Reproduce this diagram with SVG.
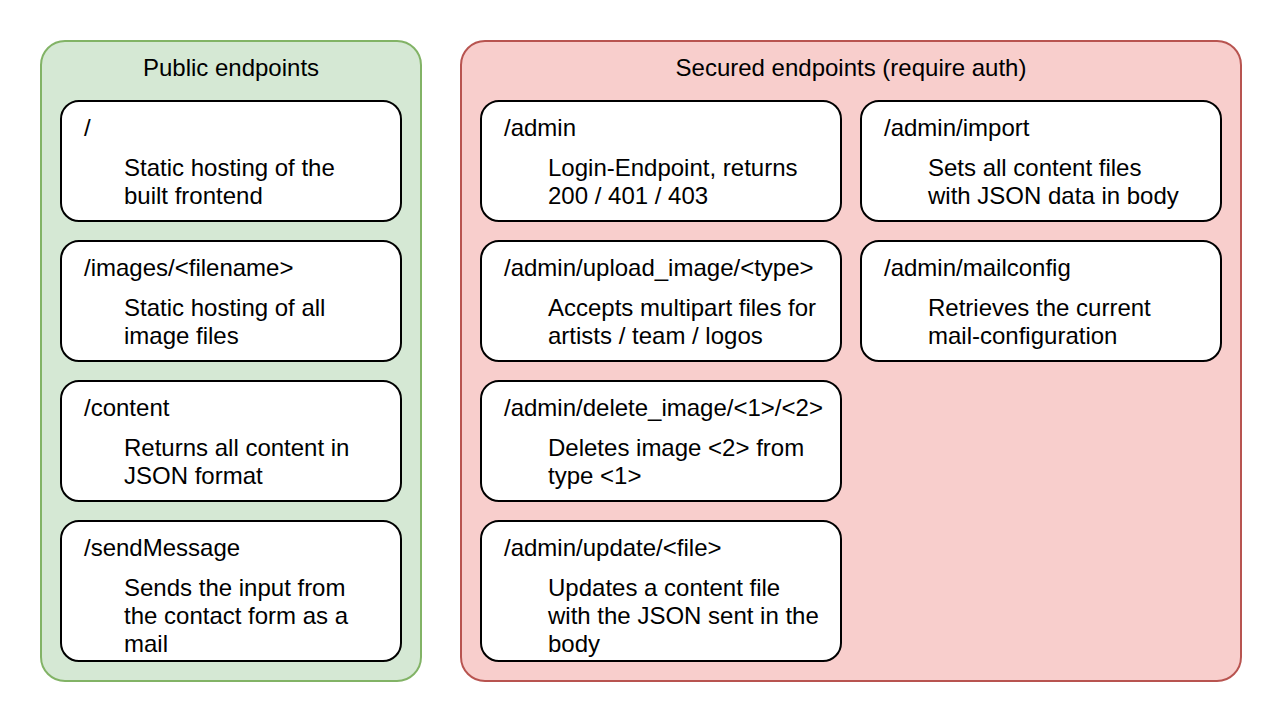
<svg xmlns="http://www.w3.org/2000/svg" width="1282" height="722" viewBox="0 0 1282 722">
<style>
text{font-family:"Liberation Sans",Arial,sans-serif;font-size:24px;fill:#000}
.title{text-anchor:middle}
.box{fill:#fff;stroke:#000;stroke-width:2}
.pub{fill:#d5e8d4;stroke:#82b366;stroke-width:2}
.sec{fill:#f8cecc;stroke:#b85450;stroke-width:2}
</style>
<rect width="1282" height="722" fill="#fff"/>
<g id="public">
<rect class="pub" x="41" y="41" width="380" height="640" rx="24" ry="24"/>
<text class="title" x="231" y="76">Public endpoints</text>
</g>
<g id="secured">
<rect class="sec" x="461" y="41" width="780" height="640" rx="24" ry="24"/>
<text class="title" x="851" y="76">Secured endpoints (require auth)</text>
</g>
<g id="ep-root">
<rect class="box" x="61" y="101" width="340" height="120" rx="18" ry="18"/>
<text x="84" y="136">/</text>
<text x="124" y="176">Static hosting of the</text>
<text x="124" y="204">built frontend</text>
</g>
<g id="ep-images">
<rect class="box" x="61" y="241" width="340" height="120" rx="18" ry="18"/>
<text x="84" y="276">/images/&lt;filename&gt;</text>
<text x="124" y="316">Static hosting of all</text>
<text x="124" y="344">image files</text>
</g>
<g id="ep-content">
<rect class="box" x="61" y="381" width="340" height="120" rx="18" ry="18"/>
<text x="84" y="416">/content</text>
<text x="124" y="456">Returns all content in</text>
<text x="124" y="484">JSON format</text>
</g>
<g id="ep-sendMessage">
<rect class="box" x="61" y="521" width="340" height="140" rx="18" ry="18"/>
<text x="84" y="556">/sendMessage</text>
<text x="124" y="596">Sends the input from</text>
<text x="124" y="624">the contact form as a</text>
<text x="124" y="652">mail</text>
</g>
<g id="ep-admin">
<rect class="box" x="481" y="101" width="360" height="120" rx="18" ry="18"/>
<text x="504" y="136">/admin</text>
<text x="548" y="176">Login-Endpoint, returns</text>
<text x="548" y="204">200 / 401 / 403</text>
</g>
<g id="ep-upload">
<rect class="box" x="481" y="241" width="360" height="120" rx="18" ry="18"/>
<text x="504" y="276">/admin/upload_image/&lt;type&gt;</text>
<text x="548" y="316">Accepts multipart files for</text>
<text x="548" y="344">artists / team / logos</text>
</g>
<g id="ep-delete">
<rect class="box" x="481" y="381" width="360" height="120" rx="18" ry="18"/>
<text x="504" y="416">/admin/delete_image/&lt;1&gt;/&lt;2&gt;</text>
<text x="548" y="456">Deletes image &lt;2&gt; from</text>
<text x="548" y="484">type &lt;1&gt;</text>
</g>
<g id="ep-update">
<rect class="box" x="481" y="521" width="360" height="140" rx="18" ry="18"/>
<text x="504" y="556">/admin/update/&lt;file&gt;</text>
<text x="548" y="596">Updates a content file</text>
<text x="548" y="624">with the JSON sent in the</text>
<text x="548" y="652">body</text>
</g>
<g id="ep-import">
<rect class="box" x="861" y="101" width="360" height="120" rx="18" ry="18"/>
<text x="884" y="136">/admin/import</text>
<text x="928" y="176">Sets all content files</text>
<text x="928" y="204">with JSON data in body</text>
</g>
<g id="ep-mailconfig">
<rect class="box" x="861" y="241" width="360" height="120" rx="18" ry="18"/>
<text x="884" y="276">/admin/mailconfig</text>
<text x="928" y="316">Retrieves the current</text>
<text x="928" y="344">mail-configuration</text>
</g>
<g id="connectors"></g>
</svg>
